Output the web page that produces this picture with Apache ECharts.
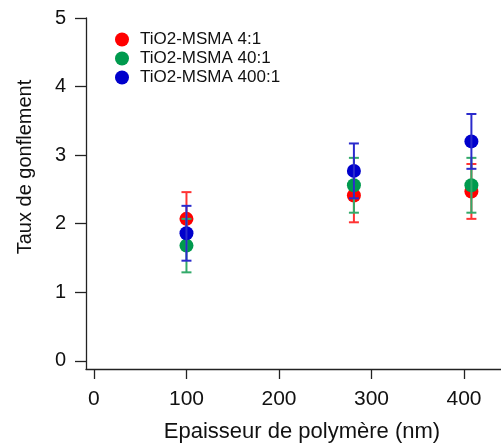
<!DOCTYPE html>
<html><head><meta charset="utf-8">
<script src="https://cdn.jsdelivr.net/npm/echarts@6/dist/echarts.min.js"></script>
<style>html,body{margin:0;padding:0;background:#fff}#c{width:501px;height:445px}</style>
</head><body><div id="c"></div>
<script>
var seriesNames = ['TiO2-MSMA 4:1', 'TiO2-MSMA 40:1', 'TiO2-MSMA 400:1'];
var thickness = [100, 281, 408];
var ratio41 = [2.07, 2.41, 2.47];
var err41 = [0.39, 0.39, 0.40];
var ratio401 = [1.68, 2.56, 2.56];
var err401 = [0.39, 0.40, 0.40];
var ratio4001 = [1.86, 2.77, 3.20];
var err4001 = [0.40, 0.40, 0.40];
var xTicks = [0, 100, 200, 300, 400];
var yTicks = [0, 1, 2, 3, 4, 5];

var pointColors = ['#ff0000', '#009a4e', '#0000cc'];
var barColors = ['#ff3333', '#33aa6a', '#2a2acc'];
var vals = [ratio41, ratio401, ratio4001];
var errs = [err41, err401, err4001];
var FONT = 'Liberation Sans, Arial, sans-serif';

var series = [];
for (var s = 0; s < 3; s++) {
  series.push({
    name: seriesNames[s], type: 'scatter', symbol: 'circle', symbolSize: 14,
    itemStyle: { color: pointColors[s], opacity: 1 }, z: 10 + s * 2,
    data: thickness.map(function (x, i) { return [x, vals[s][i]]; })
  });
  series.push({
    name: seriesNames[s], type: 'custom', z: 11 + s * 2,
    data: thickness.map(function (x, i) { return [x, vals[s][i] - errs[s][i], vals[s][i] + errs[s][i]]; }),
    renderItem: (function (col) {
      return function (params, api) {
        var lo = api.coord([api.value(0), api.value(1)]);
        var hi = api.coord([api.value(0), api.value(2)]);
        var w = 5;
        var st = { stroke: col, lineWidth: 2, fill: null };
        return { type: 'group', children: [
          { type: 'line', shape: { x1: lo[0], y1: lo[1], x2: hi[0], y2: hi[1] }, style: st },
          { type: 'line', shape: { x1: lo[0] - w, y1: lo[1], x2: lo[0] + w, y2: lo[1] }, style: st },
          { type: 'line', shape: { x1: hi[0] - w, y1: hi[1], x2: hi[0] + w, y2: hi[1] }, style: st }
        ]};
      };
    })(barColors[s])
  });
}

var chart = echarts.init(document.getElementById('c'));
chart.setOption({
  animation: false,
  backgroundColor: '#fff',
  grid: { left: 86, top: 18, right: 0, bottom: 76, containLabel: false },
  legend: {
    data: seriesNames, orient: 'vertical', left: 110, top: 26,
    itemWidth: 14, itemHeight: 14, itemGap: 2, icon: 'circle',
    textStyle: { fontSize: 17, color: '#111', fontFamily: FONT, padding: [0, 0, 0, 6] }
  },
  xAxis: {
    type: 'value', min: -8.6, max: 440,
    splitLine: { show: false },
    axisLine: { show: true, onZero: false, lineStyle: { color: '#222', width: 1.3 } },
    axisTick: { show: true, length: 10, customValues: xTicks, lineStyle: { color: '#222', width: 1.3 } },
    axisLabel: { customValues: xTicks, margin: 20, fontSize: 21, color: '#111', fontFamily: FONT }
  },
  yAxis: {
    type: 'value', min: -0.12, max: 5,
    splitLine: { show: false },
    axisLine: { show: true, onZero: false, lineStyle: { color: '#222', width: 1.3 } },
    axisTick: { show: true, length: 11, customValues: yTicks, lineStyle: { color: '#222', width: 1.3 } },
    axisLabel: { customValues: yTicks, margin: 20, fontSize: 20, color: '#111', fontFamily: FONT }
  },
  graphic: [
    { type: 'text', x: 302, y: 432, style: { text: 'Epaisseur de polymère (nm)', font: '22px ' + FONT, fill: '#111', textAlign: 'center', textVerticalAlign: 'middle' } },
    { type: 'text', x: 25, y: 167, rotation: Math.PI / 2, style: { text: 'Taux de gonflement', font: '20px ' + FONT, fill: '#111', textAlign: 'center', textVerticalAlign: 'middle' } }
  ],
  series: series
});
</script></body></html>
